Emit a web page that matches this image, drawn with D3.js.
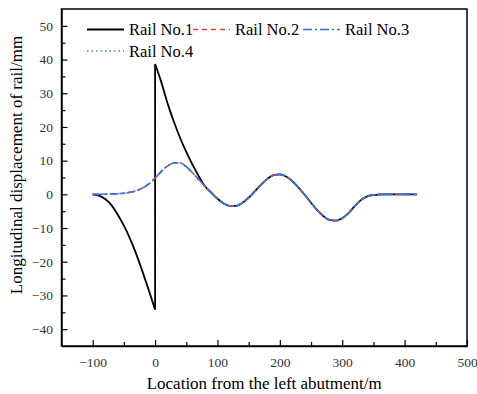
<!DOCTYPE html>
<html>
<head>
<meta charset="utf-8">
<script src="https://cdn.jsdelivr.net/npm/d3@7"></script>
<style>
  body { margin: 0; background: #fff; }
  text { font-family: "Liberation Serif", "Times New Roman", serif; }
</style>
</head>
<body>
<div id="container"></div>
<script>
// location along the bridge (m)
let xs = [-100, -90, -80, -70, -60, -50, -40, -30, -20, -10, 0, 10, 20, 30, 40, 50, 60, 70, 80, 90,
  100, 110, 120, 130, 140, 150, 160, 170, 180, 190, 200, 210, 220, 230, 240, 250, 260, 270, 280, 290,
  300, 310, 320, 330, 340, 350, 360, 370, 380, 390, 400, 410, 420];

// rails 2-4 sit on top of each other
let rail2 = [0, 0, 0.05, 0.1, 0.2, 0.35, 0.6, 1.1, 1.9, 3.1, 4.8, 6.8, 8.4, 9.3, 9.3, 8.2, 6.4, 4.4, 2.4, 0.5,
  -1.3, -2.7, -3.4, -3.4, -2.5, -1.0, 0.9, 2.9, 4.6, 5.7, 5.9, 5.3, 3.9, 2.0, -0.2, -2.5, -4.7, -6.5, -7.6, -7.8,
  -7.1, -5.6, -3.5, -1.7, -0.6, -0.2, -0.05, 0, 0, 0, 0, 0, 0];
let rail3 = rail2.slice();
let rail4 = rail2.slice();

// rail 1: left branch up to the abutment, right branch from it
let rail1Left = [0, -0.4, -1.4, -3.2, -6, -9.3, -13.2, -17.8, -23, -28.5, -34.2];
let rail1Right = [38.7, 33.3, 27, 21.6, 16.8, 12.6, 8.8, 5.4, 2.4, 0.5,
  -1.3, -2.7, -3.4, -3.4, -2.5, -1.0, 0.9, 2.9, 4.6, 5.7, 5.9, 5.3, 3.9, 2.0, -0.2, -2.5, -4.7, -6.5, -7.6, -7.8,
  -7.1, -5.6, -3.5, -1.7, -0.6, -0.2, -0.05, 0, 0, 0, 0, 0, 0];

let legendNames = ["Rail No.1", "Rail No.2", "Rail No.3", "Rail No.4"];

let w = 477;
let h = 394;
let padLeft = 61.5, padRight = 467, padTop = 9, padBottom = 346;
let serif = "'Liberation Serif', 'Times New Roman', serif";

let viz = d3.select("#container")
  .append("svg")
    .attr("width", w)
    .attr("height", h);

let xScale = d3.scaleLinear().domain([-150, 500]).range([padLeft, padRight]);
let yScale = d3.scaleLinear().domain([-45, 55]).range([padBottom, padTop]);

// frame
viz.append("rect")
  .attr("x", padLeft).attr("y", padTop)
  .attr("width", padRight - padLeft).attr("height", padBottom - padTop)
  .attr("fill", "none").attr("stroke", "#000").attr("stroke-width", 1.5);

// minor ticks
viz.append("g")
  .attr("transform", "translate(0," + padBottom + ")")
  .call(d3.axisBottom(xScale).tickValues(d3.range(-50, 500, 100)).tickSize(-4).tickSizeOuter(0).tickFormat(""))
  .call(g => g.select(".domain").remove());
viz.append("g")
  .attr("transform", "translate(" + padLeft + ",0)")
  .call(d3.axisLeft(yScale).tickValues(d3.range(-35, 55, 10)).tickSize(-4).tickSizeOuter(0).tickFormat(""))
  .call(g => g.select(".domain").remove());

// major ticks
let xAxisGroup = viz.append("g")
  .attr("transform", "translate(0," + padBottom + ")")
  .call(d3.axisBottom(xScale).tickValues(d3.range(-100, 501, 100)).tickSize(-6).tickSizeOuter(0).tickPadding(11));
let yAxisGroup = viz.append("g")
  .attr("transform", "translate(" + padLeft + ",0)")
  .call(d3.axisLeft(yScale).tickValues(d3.range(-40, 51, 10)).tickSize(-6).tickSizeOuter(0).tickPadding(8.5));

xAxisGroup.attr("font-family", serif).attr("font-size", 13.5);
yAxisGroup.attr("font-family", serif).attr("font-size", 13.5);
viz.selectAll(".domain").attr("stroke-width", 1.5);
viz.selectAll(".tick line").attr("stroke-width", 1.2);
viz.selectAll(".tick text").attr("fill", "#333");

// axis titles
viz.append("text")
  .attr("x", (padLeft + padRight) / 2).attr("y", 389)
  .attr("text-anchor", "middle")
  .attr("font-family", serif)
  .attr("font-size", 17)
  .text("Location from the left abutment/m");
viz.append("text")
  .attr("transform", "translate(22,165) rotate(-90)")
  .attr("text-anchor", "middle")
  .attr("font-family", serif)
  .attr("font-size", 17)
  .text("Longitudinal displacement of rail/mm");

let lineMaker = d3.line()
  .x(d => xScale(d[0]))
  .y(d => yScale(d[1]))
  .curve(d3.curveMonotoneX);

let graphGroup = viz.append("g").attr("class", "graphGroup");

// rail 1 with the jump at the abutment
let leftPts = rail1Left.map((v, i) => [xs[i], v]);
let rightPts = rail1Right.map((v, i) => [xs[i + 10], v]);
graphGroup.append("path")
  .attr("d", lineMaker(leftPts) + lineMaker(rightPts).replace(/^M/, "L"))
  .attr("fill", "none")
  .attr("stroke", "#000")
  .attr("stroke-width", 1.8);

let styles = [
  { color: "#000", dash: null, width: 1.8 },
  { color: "#f03a3a", dash: "5,4", width: 1.6 },
  { color: "#2a6fdc", dash: "9,3,2,3", width: 1.6 },
  { color: "#3b82ea", dash: "1.5,3", width: 1.6 }
];

[rail2, rail3, rail4].forEach(function(series, k) {
  let st = styles[k + 1];
  graphGroup.append("path")
    .attr("d", lineMaker(series.map((v, i) => [xs[i], v])))
    .attr("fill", "none")
    .attr("stroke", st.color)
    .attr("stroke-width", st.width)
    .attr("stroke-dasharray", st.dash);
});

// legend
let legendPos = [[87, 29.5], [193, 29.5], [303, 29.5], [87, 51]];
let legend = viz.append("g").attr("class", "legend");
legendNames.forEach(function(name, i) {
  let st = styles[i];
  let p = legendPos[i];
  legend.append("line")
    .attr("x1", p[0]).attr("x2", p[0] + 37)
    .attr("y1", p[1]).attr("y2", p[1])
    .attr("stroke", st.color)
    .attr("stroke-width", st.width)
    .attr("stroke-dasharray", st.dash);
  legend.append("text")
    .attr("x", p[0] + 42).attr("y", p[1] + 5.5)
    .attr("font-family", serif)
    .attr("font-size", 16.5)
    .text(name);
});
</script>
</body>
</html>
